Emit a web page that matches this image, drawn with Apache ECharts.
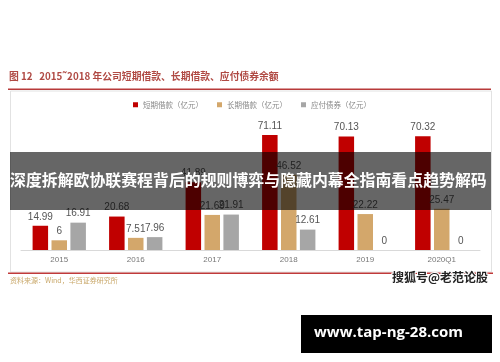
<!DOCTYPE html>
<html>
<head>
<meta charset="utf-8">
<script src="https://cdn.jsdelivr.net/npm/echarts@6/dist/echarts.min.js"></script>
<style>
html,body{margin:0;padding:0;background:#fff;}
#c{width:500px;height:362px;}
</style>
</head>
<body>
<div id="c"></div>
<script>
const categories = ['2015', '2016', '2017', '2018', '2019', '2020Q1'];
const shortLoans = [14.99, 20.68, 41.89, 71.11, 70.13, 70.32];
const longLoans = [6, 7.51, 21.69, 46.52, 22.22, 25.47];
const bonds = [16.91, 7.96, 21.91, 12.61, 0, 0];
const seriesNames = ['短期借款（亿元）', '长期借款（亿元）', '应付债券（亿元）'];

const FONT = '"Noto Sans CJK SC", "Noto Sans", sans-serif';
const chart = echarts.init(document.getElementById('c'), null, {renderer: 'canvas'});

const labelCfg = {show: true, position: 'top', distance: 4, fontSize: 10, color: '#555', fontFamily: 'Liberation Sans, Arial, sans-serif'};

chart.setOption({
  backgroundColor: '#fff',
  animation: false,
  textStyle: {fontFamily: FONT},
  legend: {
    top: 96, left: 128, itemWidth: 5, itemHeight: 5, icon: 'rect', itemGap: 14, itemStyle: {borderWidth: 0},
    textStyle: {fontSize: 7.5, color: '#888', fontFamily: FONT},
    data: seriesNames
  },
  grid: {left: 21, right: 20, top: 120.6, bottom: 112, containLabel: false},
  xAxis: {
    type: 'category', data: categories,
    axisLine: {lineStyle: {color: '#d9d9d9'}},
    axisTick: {show: false},
    axisLabel: {fontSize: 8, color: '#777', margin: 6, fontFamily: 'Liberation Sans, Arial, sans-serif'}
  },
  yAxis: {type: 'value', min: 0, max: 80, show: false, splitLine: {show: false}},
  series: [
    {name: seriesNames[0], type: 'bar', data: shortLoans, barWidth: 15.5, barGap: '22%', itemStyle: {color: '#c00000'}, label: labelCfg},
    {name: seriesNames[1], type: 'bar', data: longLoans, barWidth: 15.5, barGap: '22%', itemStyle: {color: '#d3a76b'}, label: labelCfg},
    {name: seriesNames[2], type: 'bar', data: bonds, barWidth: 15.5, barGap: '22%', itemStyle: {color: '#a6a6a6'}, label: labelCfg}
  ],
  graphic: [
    {type: 'text', left: 9, top: 71, z: 10, style: {text: '图 12   2015˜2018 年公司短期借款、长期借款、应付债券余额', fontSize: 9.8, fontWeight: 'bold', fill: '#b04a44', fontFamily: FONT}},
    {type: 'rect', shape: {x: 8, y: 88.5, width: 483, height: 1.5}, style: {fill: '#b83a3a'}, z: 10},
    {type: 'rect', shape: {x: 10.5, y: 91, width: 481, height: 181}, style: {fill: 'none', stroke: '#e2e2e2', lineWidth: 1}, z: 1},
    {type: 'rect', shape: {x: 8, y: 272.5, width: 485, height: 1.5}, style: {fill: '#c03a3a'}, z: 10},
    {type: 'text', left: 10, top: 277, z: 10, style: {text: '资料来源：Wind，华西证券研究所', fontSize: 7, fill: '#c9a86a', fontFamily: FONT}},
    {type: 'text', left: 391, top: 270, z: 20, style: {text: '搜狐号@老范论股', fontSize: 12, fontWeight: 'bold', fill: '#222', stroke: '#fff', lineWidth: 2, fontFamily: FONT}},
    {type: 'rect', shape: {x: 10, y: 152, width: 481, height: 58}, style: {fill: 'rgba(0,0,0,0.6)'}, z: 30},
    {type: 'text', left: 10, top: 172, z: 31, style: {text: '深度拆解欧协联赛程背后的规则博弈与隐藏内幕全指南看点趋势解码', fontSize: 15.9, fontWeight: 'bold', fill: '#fff', fontFamily: FONT}},
    {type: 'rect', shape: {x: 301, y: 315, width: 191, height: 38}, style: {fill: '#000'}, z: 30},
    {type: 'text', left: 314, top: 325, z: 31, style: {text: 'www.tap-ng-28.com', fontSize: 15, fontWeight: 'bold', fill: '#fff', fontFamily: '"Open Sans", "DejaVu Sans", sans-serif'}}
  ]
});
</script>
</body>
</html>
